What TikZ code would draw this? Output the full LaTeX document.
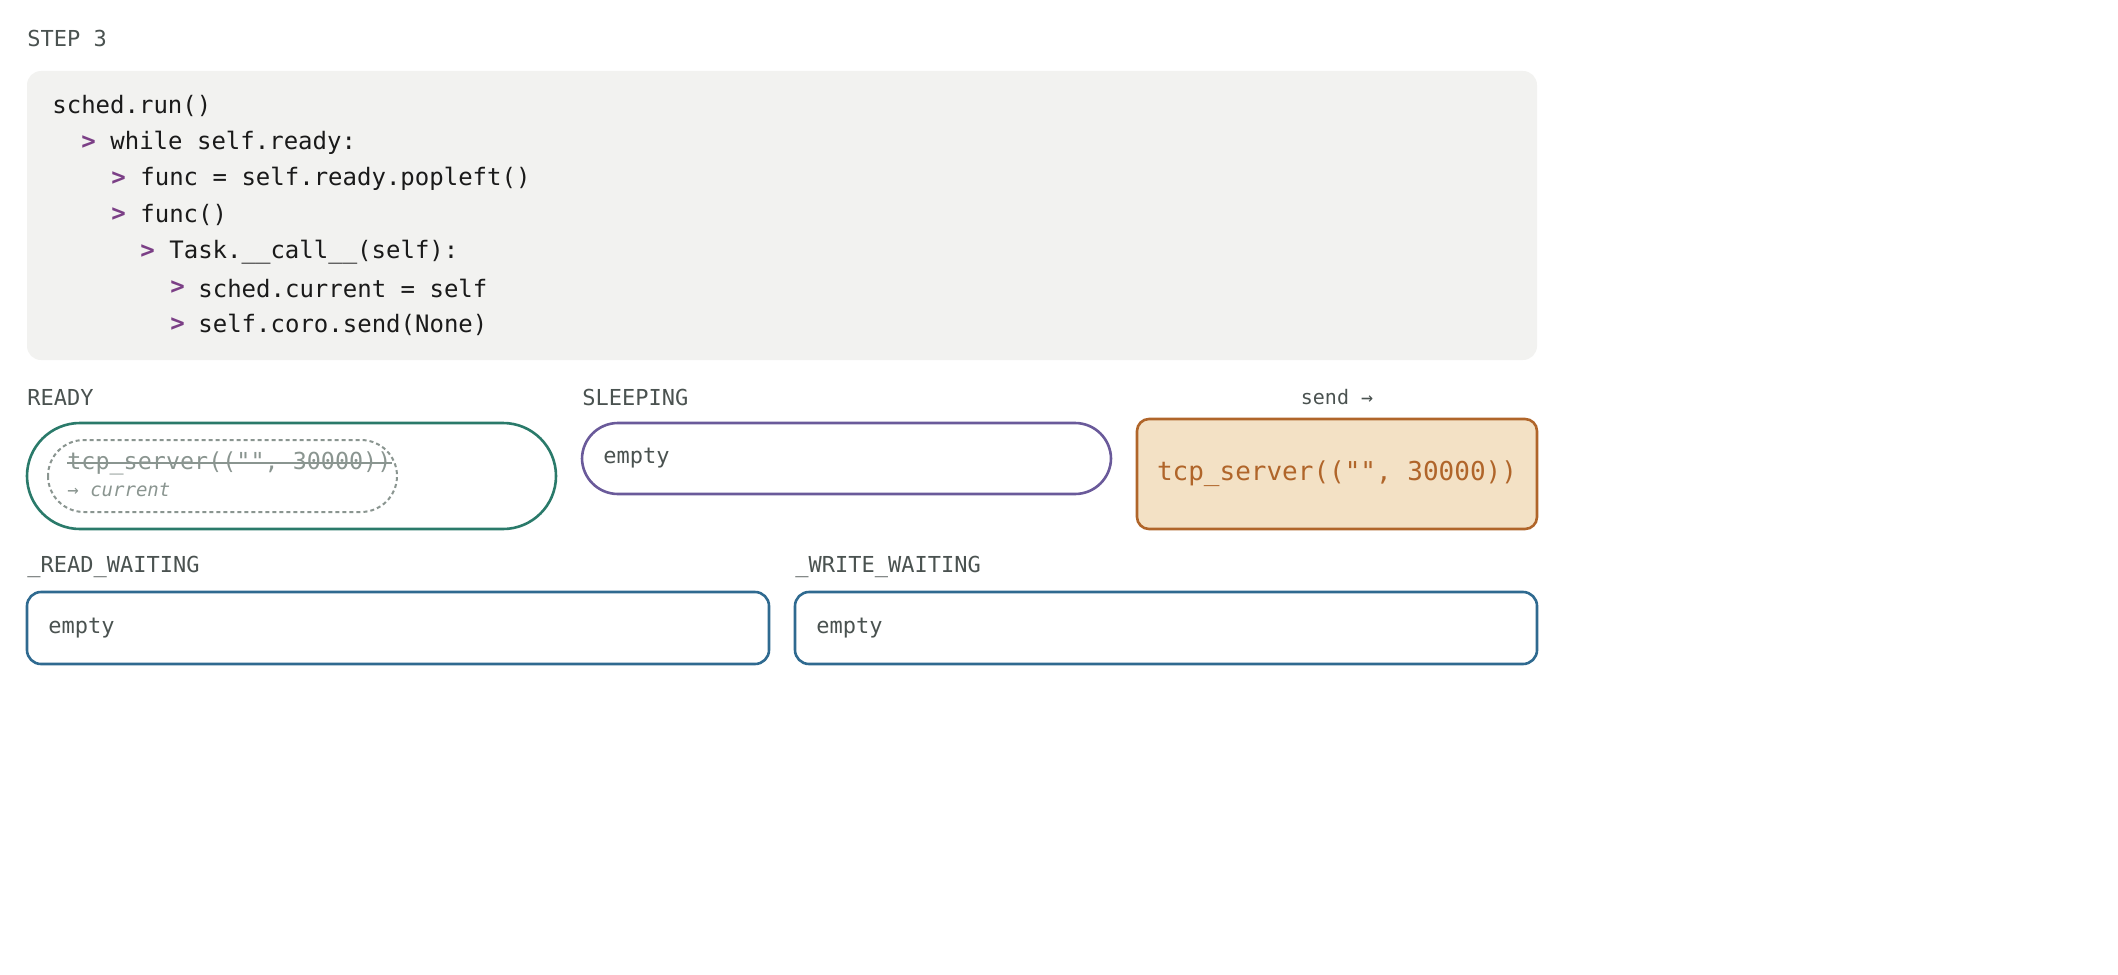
\documentclass[tikz,border=0pt]{standalone}
\usepackage{fontspec}
\setmonofont{DejaVu Sans Mono}
\renewcommand{\familydefault}{\ttdefault}
\begin{document}
\ttfamily
\definecolor{txt}{HTML}{1A1A1A}
\definecolor{lbl}{HTML}{4A5250}
\definecolor{prp}{HTML}{7B3F86}
\definecolor{grn}{HTML}{2A7A6A}
\definecolor{vio}{HTML}{6A5A9A}
\definecolor{org}{HTML}{B0652A}
\definecolor{orgf}{HTML}{F3E1C5}
\definecolor{blu}{HTML}{2F6A90}
\definecolor{gry}{HTML}{8A9590}
\definecolor{codebg}{HTML}{F2F2F0}
\begin{tikzpicture}[x=0.5pt,y=-0.5pt,
  code/.style={anchor=west,inner sep=0,text=txt,font=\ttfamily\fontsize{12}{14}\selectfont},
  gt/.style={anchor=west,inner sep=0,text=prp,font=\ttfamily\fontsize{12}{14}\selectfont\bfseries},
  lab/.style={anchor=west,inner sep=0,text=lbl,font=\ttfamily\fontsize{11}{13}\selectfont},
  emp/.style={anchor=west,inner sep=0,text=lbl,font=\ttfamily\fontsize{11}{13}\selectfont}]
\useasboundingbox (0,0) rectangle (2118,974);
\node[lab] (step) at (27,38) {STEP 3};
\draw[fill=codebg,draw=none,rounded corners=7pt] (27,71) rectangle (1537,360);
\node[code] (l1) at (52,106) {sched.run()};
\node[gt] (g2) at (81,143) {>}; \node[code] (l2) at (110,143) {while self.ready:};
\node[gt] (g3) at (111,179) {>}; \node[code] (l3) at (140,179) {func = self.ready.popleft()};
\node[gt] (g4) at (111,215) {>}; \node[code] (l4) at (140,215) {func()};
\node[gt] (g5) at (140,252) {>}; \node[code] (l5) at (169,252) {Task.\_\_call\_\_(self):};
\node[gt] (g6) at (170,288) {>}; \node[code] (l6) at (198,288) {sched.current = self};
\node[gt] (g7) at (170,325) {>}; \node[code] (l7) at (198,325) {self.coro.send(None)};
% ready
\node[lab] (rl) at (27,397) {READY};
\draw[grn,line width=1.3pt,rounded corners=26.5pt] (27,423) rectangle (556,529);
\draw[gry,line width=1pt,dashed,dash pattern=on 2pt off 1.5pt,rounded corners=18pt] (48,440) rectangle (397,512);
\node[anchor=west,inner sep=0,text=gry,font=\ttfamily\fontsize{11.7}{13}\selectfont] (ts) at (67,463) {tcp\_server(("", 30000))};
\draw[gry,line width=1.2pt] (ts.west) -- (ts.east);
\node[anchor=west,inner sep=0,text=gry,font=\ttfamily\fontsize{9.5}{11}\selectfont] (cur) at (67,490) {→ \textit{current}};
% sleeping
\node[lab] (sl) at (582,397) {SLEEPING};
\draw[vio,line width=1.3pt,rounded corners=18pt] (582,423) rectangle (1111,494);
\node[emp] (se) at (603,458) {empty};
% send
\node[inner sep=0,text=lbl,font=\ttfamily\fontsize{10}{12}\selectfont] (snd) at (1337,397) {send →};
\node[draw=org,fill=orgf,line width=1.3pt,rounded corners=6pt,minimum width=200pt,minimum height=55pt,text=org,font=\ttfamily\fontsize{13}{15}\selectfont] (cur2) at (1337,474) {tcp\_server(("", 30000))};
% waiting
\node[lab] (rw) at (27,567) {\_READ\_WAITING};
\draw[blu,line width=1.3pt,rounded corners=7pt] (27,592) rectangle (769,664);
\node[emp] (re) at (48,628) {empty};
\node[lab] (ww) at (795,567) {\_WRITE\_WAITING};
\draw[blu,line width=1.3pt,rounded corners=7pt] (795,592) rectangle (1537,664);
\node[emp] (we) at (816,628) {empty};
\end{tikzpicture}
\end{document}
